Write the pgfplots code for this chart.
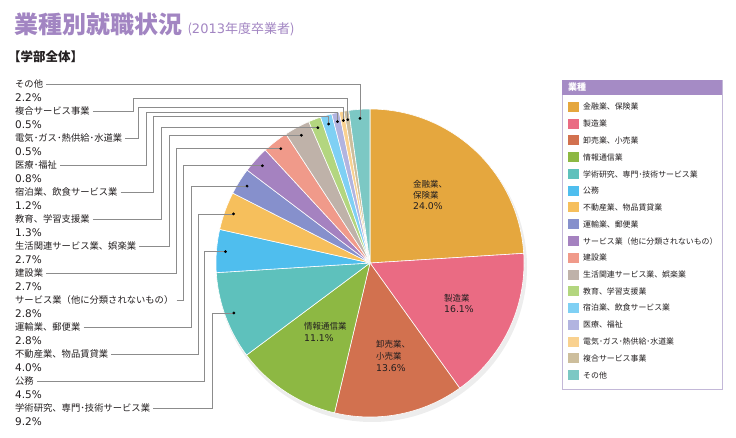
\documentclass[border=0pt]{standalone}
\usepackage{pgfplots}
\pgfplotsset{compat=1.18}
\usepackage{pgfplotstable}
\usepackage{fontspec}
\setmainfont{Noto Sans CJK JP}
\newfontfamily\numfont{DejaVu Sans}

\definecolor{c0}{HTML}{E5A73E}
\definecolor{c1}{HTML}{EA6B83}
\definecolor{c2}{HTML}{D2714F}
\definecolor{c3}{HTML}{8DB843}
\definecolor{c4}{HTML}{5EC1BC}
\definecolor{c5}{HTML}{4FBEEE}
\definecolor{c6}{HTML}{F6BF5C}
\definecolor{c7}{HTML}{8690CC}
\definecolor{c8}{HTML}{A582C0}
\definecolor{c9}{HTML}{F09A8A}
\definecolor{c10}{HTML}{BFB2A9}
\definecolor{c11}{HTML}{B3D67F}
\definecolor{c12}{HTML}{7FD0F4}
\definecolor{c13}{HTML}{B2B4E0}
\definecolor{c14}{HTML}{F9D18F}
\definecolor{c15}{HTML}{CDBE9C}
\definecolor{c16}{HTML}{7CC8C4}
\definecolor{titlec}{HTML}{A285C2}
\definecolor{headc}{HTML}{A58BC5}
\definecolor{boxc}{HTML}{C3B8D8}
\definecolor{linec}{HTML}{8C8C8C}
\definecolor{txt}{HTML}{231F20}

\pgfplotstableread{
v
24.0
16.1
13.6
11.1
9.2
4.5
4.0
2.8
2.8
2.7
2.7
1.3
1.2
0.8
0.5
0.5
2.2
}\pie

\begin{document}
\begin{tikzpicture}
\pgfmathsetmacro\acc{0}
\pgfplotsforeachungrouped \i in {0,...,16}{%
  \pgfplotstablegetelem{\i}{v}\of\pie
  \let\val\pgfplotsretval
  \pgfmathsetmacro\en{90-3.6*\acc}%
  \pgfmathsetmacro\acc{\acc+\val}%
  \pgfmathsetmacro\st{90-3.6*\acc}%
  \pgfmathsetmacro\md{(\st+\en)/2}%
  \pgfmathsetmacro\dx{370+145*cos(\md)}%
  \pgfmathsetmacro\dy{-263+145*sin(\md)}%
  \expandafter\xdef\csname st\i\endcsname{\st}%
  \expandafter\xdef\csname en\i\endcsname{\en}%
  \expandafter\xdef\csname md\i\endcsname{\md}%
  \expandafter\xdef\csname dx\i\endcsname{\dx}%
  \expandafter\xdef\csname dy\i\endcsname{\dy}%
}
\begin{axis}[x=1pt,y=1pt,xmin=0,xmax=736,ymin=-437,ymax=0,hide axis,clip=false]
\path (axis cs:0,0) rectangle (axis cs:736,-437);
% shadow
\fill[black,opacity=0.07] (axis cs:372,-267) circle[radius=155pt];
% slices
\pgfplotsinvokeforeach{0,...,16}{
  \addplot[fill=c#1, draw=white, line width=0.6pt, samples=80, variable=\t,
    domain/.expanded={\csname st#1\endcsname:\csname en#1\endcsname}]
    ({370+154*cos(\t)},{-263+154*sin(\t)}) -- (axis cs:370,-263) -- cycle;
}
% dots
\pgfplotsinvokeforeach{4,...,16}{
  \addplot[only marks, mark=*, mark size=1.2pt, black, variable=\t,
    samples at/.expanded={\csname md#1\endcsname}]
    ({370+145*cos(\t)},{-263+145*sin(\t)});
  \coordinate (d#1) at (axis cs:\csname dx#1\endcsname,\csname dy#1\endcsname);
}

% title
\node[anchor=west, text=titlec, font=\fontsize{24}{24}\selectfont\bfseries, inner sep=0pt] (T) at (axis cs:14,-24) {業種別就職状況};
\node[anchor=base west, text=titlec, font=\fontsize{13}{13}\selectfont, inner sep=0pt] at ([xshift=5pt]T.base east) {({\numfont 2013}年度卒業者)};
\node[anchor=west, text=txt, font=\fontsize{12.5}{12.5}\selectfont\bfseries, inner sep=0pt] at (axis cs:8,-57) {【学部全体】};

% left labels
\tikzset{lab/.style={anchor=west, text=txt, font=\fontsize{9.3}{9.3}\selectfont, inner sep=0pt},
         pct/.style={anchor=west, text=txt, font=\numfont\fontsize{10.5}{10.5}\selectfont, inner sep=0pt},
         lc/.style={draw=linec, line width=0.6pt}}
\node[lab] (L0) at (axis cs:15,-84) {その他};
\node[pct] at (axis cs:15,-97.5) {2.2\%};
\node[lab] (L1) at (axis cs:15,-111) {複合サービス事業};
\node[pct] at (axis cs:15,-124.5) {0.5\%};
\node[lab] (L2) at (axis cs:15,-138) {電気･ガス･熱供給･水道業};
\node[pct] at (axis cs:15,-151.5) {0.5\%};
\node[lab] (L3) at (axis cs:15,-165) {医療･福祉};
\node[pct] at (axis cs:15,-178.5) {0.8\%};
\node[lab] (L4) at (axis cs:15,-192) {宿泊業、飲食サービス業};
\node[pct] at (axis cs:15,-205.5) {1.2\%};
\node[lab] (L5) at (axis cs:15,-219) {教育、学習支援業};
\node[pct] at (axis cs:15,-232.5) {1.3\%};
\node[lab] (L6) at (axis cs:15,-246) {生活関連サービス業、娯楽業};
\node[pct] at (axis cs:15,-259.5) {2.7\%};
\node[lab] (L7) at (axis cs:15,-273) {建設業};
\node[pct] at (axis cs:15,-286.5) {2.7\%};
\node[lab] (L8) at (axis cs:15,-300) {サービス業（他に分類されないもの）};
\node[pct] at (axis cs:15,-313.5) {2.8\%};
\node[lab] (L9) at (axis cs:15,-327) {運輸業、郵便業};
\node[pct] at (axis cs:15,-340.5) {2.8\%};
\node[lab] (L10) at (axis cs:15,-354) {不動産業、物品賃貸業};
\node[pct] at (axis cs:15,-367.5) {4.0\%};
\node[lab] (L11) at (axis cs:15,-381) {公務};
\node[pct] at (axis cs:15,-394.5) {4.5\%};
\node[lab] (L12) at (axis cs:15,-408) {学術研究、専門･技術サービス業};
\node[pct] at (axis cs:15,-421.5) {9.2\%};

\draw[lc] ([xshift=3pt]L0.east) -| (d16);
\draw[lc] ([xshift=3pt]L1.east) -- (axis cs:133,-111) -- (axis cs:133,-98) -| (d15);
\draw[lc] ([xshift=3pt]L2.east) -- (axis cs:138,-138) -- (axis cs:138,-107) -| (d14);
\draw[lc] ([xshift=3pt]L3.east) -- (axis cs:146,-165) -- (axis cs:146,-112) -| (d13);
\draw[lc] ([xshift=3pt]L4.east) -- (axis cs:153,-192) -- (axis cs:153,-116) -| (d12);
\draw[lc] ([xshift=3pt]L5.east) -- (axis cs:161,-219) |- (d11);
\draw[lc] ([xshift=3pt]L6.east) -- (axis cs:169,-246) |- (d10);
\draw[lc] ([xshift=3pt]L7.east) -- (axis cs:176,-273) |- (d9);
\draw[lc] ([xshift=3pt]L8.east) -- (axis cs:183,-300) |- (d8);
\draw[lc] ([xshift=3pt]L9.east) -- (axis cs:191,-327) |- (d7);
\draw[lc] ([xshift=3pt]L10.east) -- (axis cs:198,-354) |- (d6);
\draw[lc] ([xshift=3pt]L11.east) -- (axis cs:204,-381) |- (d5);
\draw[lc] ([xshift=3pt]L12.east) -- (axis cs:212,-408) |- (d4);

% in-slice labels
\tikzset{inl/.style={anchor=west, text=txt, font=\fontsize{8.5}{8.5}\selectfont, inner sep=0pt},
         inp/.style={anchor=west, text=txt, font=\numfont\fontsize{9.3}{9.3}\selectfont, inner sep=0pt}}
\node[inl] at (axis cs:413,-184) {金融業、};
\node[inl] at (axis cs:413,-195) {保険業};
\node[inp] at (axis cs:413,-206) {24.0\%};
\node[inl] at (axis cs:444,-298) {製造業};
\node[inp] at (axis cs:444,-309.5) {16.1\%};
\node[inl] at (axis cs:376,-344) {卸売業、};
\node[inl] at (axis cs:376,-356) {小売業};
\node[inp] at (axis cs:376,-368) {13.6\%};
\node[inl] at (axis cs:304,-326) {情報通信業};
\node[inp] at (axis cs:304,-338) {11.1\%};

% legend box
\draw[boxc, line width=0.8pt, fill=white] (axis cs:562,-80) rectangle (axis cs:722,-389);
\fill[headc] (axis cs:562,-80) rectangle (axis cs:722,-95);
\node[anchor=west, text=white, font=\fontsize{9}{9}\selectfont\bfseries, inner sep=0pt] at (axis cs:568,-87.5) {業種};
\tikzset{leg/.style={anchor=west, text=txt, font=\fontsize{7.9}{7.9}\selectfont, inner sep=0pt}}
\pgfplotsinvokeforeach{0,...,16}{
  \fill[c#1] (axis cs:568,{-102-16.75*#1}) rectangle (axis cs:579,{-112-16.75*#1});
}
\node[leg] at (axis cs:583,{-107-16.75*0}) {金融業、保険業};
\node[leg] at (axis cs:583,{-107-16.75*1}) {製造業};
\node[leg] at (axis cs:583,{-107-16.75*2}) {卸売業、小売業};
\node[leg] at (axis cs:583,{-107-16.75*3}) {情報通信業};
\node[leg] at (axis cs:583,{-107-16.75*4}) {学術研究、専門･技術サービス業};
\node[leg] at (axis cs:583,{-107-16.75*5}) {公務};
\node[leg] at (axis cs:583,{-107-16.75*6}) {不動産業、物品賃貸業};
\node[leg] at (axis cs:583,{-107-16.75*7}) {運輸業、郵便業};
\node[leg] at (axis cs:583,{-107-16.75*8}) {サービス業（他に分類されないもの）};
\node[leg] at (axis cs:583,{-107-16.75*9}) {建設業};
\node[leg] at (axis cs:583,{-107-16.75*10}) {生活関連サービス業、娯楽業};
\node[leg] at (axis cs:583,{-107-16.75*11}) {教育、学習支援業};
\node[leg] at (axis cs:583,{-107-16.75*12}) {宿泊業、飲食サービス業};
\node[leg] at (axis cs:583,{-107-16.75*13}) {医療、福祉};
\node[leg] at (axis cs:583,{-107-16.75*14}) {電気･ガス･熱供給･水道業};
\node[leg] at (axis cs:583,{-107-16.75*15}) {複合サービス事業};
\node[leg] at (axis cs:583,{-107-16.75*16}) {その他};
\end{axis}
\end{tikzpicture}
\end{document}
